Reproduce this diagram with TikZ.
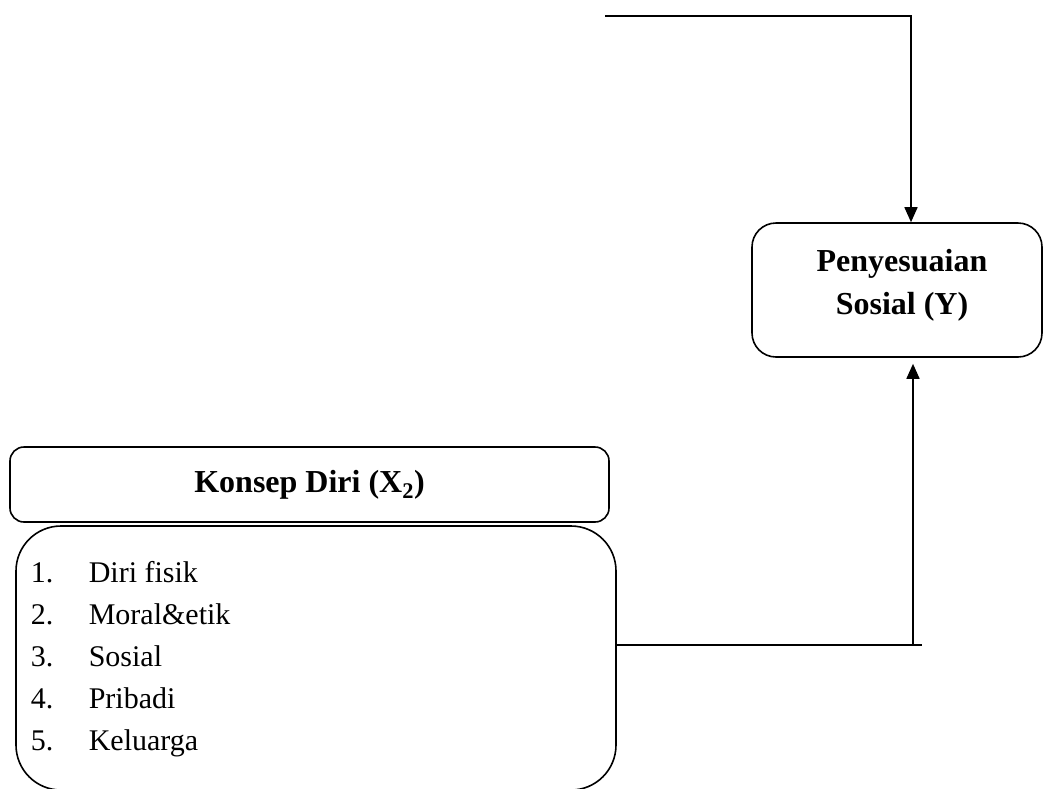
\documentclass[tikz,border=0pt]{standalone}
\usepackage{fontspec}
\setmainfont{Liberation Serif}
\usetikzlibrary{positioning,arrows.meta}

\begin{document}
\begin{tikzpicture}[
    x=1pt, y=-1pt,
    line width=1.6pt,
    box/.style={rectangle, draw, inner sep=0pt, align=center, font=\fontsize{32}{43}\selectfont\bfseries},
    listbox/.style={rectangle, draw, rounded corners=45pt, inner sep=0pt},
    arrow/.style={-{Triangle[length=15pt,width=13pt]}}
]
\clip (0,0) rectangle (1043,788);

\node[box, rounded corners=24pt, minimum width=290pt, minimum height=134pt] (penyesuaian) at (897,290) {};
\node[font=\fontsize{32}{43}\selectfont\bfseries, align=center, inner sep=0pt] (penyesuaianteks) at (902,285) {Penyesuaian\\Sosial (Y)};

\node[box, rounded corners=14pt, minimum width=599pt, minimum height=75pt] (konsep) at (309.5,484.5) {Konsep Diri (X\textsubscript{2})};
\node[listbox, minimum width=600pt, minimum height=264pt] (indikator) at (316,658) {};
\node[anchor=north west, align=left, inner sep=0pt, font=\fontsize{30}{42}\selectfont] (daftar) at (30,561) {%
    \makebox[58pt][l]{1.}Diri fisik\\
    \makebox[58pt][l]{2.}Moral\&etik\\
    \makebox[58pt][l]{3.}Sosial\\
    \makebox[58pt][l]{4.}Pribadi\\
    \makebox[58pt][l]{5.}Keluarga};

\coordinate (awal) at (605,16);
\coordinate (sudut) at (913,645);
\coordinate (ujung) at (922,645);

\draw[arrow] (awal) -| ([xshift=14pt]penyesuaian.north);
\draw (indikator.east |- ujung) -- (ujung);
\draw[arrow, shorten >=6pt] (sudut) -- (sudut |- penyesuaian.south);
\end{tikzpicture}
\end{document}
